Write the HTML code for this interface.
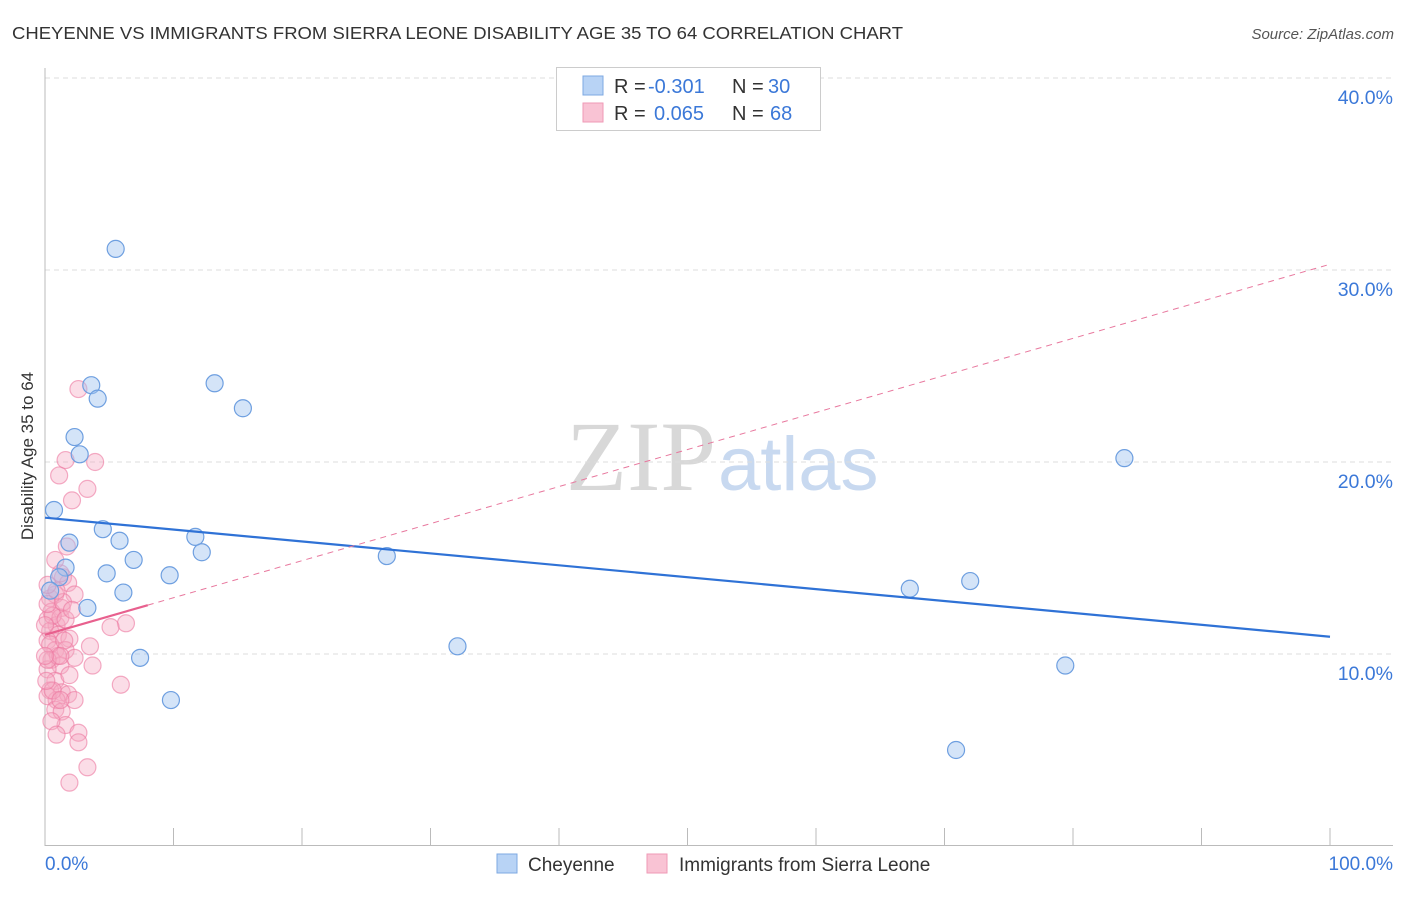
<!DOCTYPE html>
<html><head><meta charset="utf-8"><style>
body{margin:0;background:#fff;font-family:"Liberation Sans",sans-serif}
</style></head><body>
<svg width="1406" height="892" xmlns="http://www.w3.org/2000/svg">
<text x="12" y="39" font-size="17.5" fill="#333" textLength="891" lengthAdjust="spacingAndGlyphs">CHEYENNE VS IMMIGRANTS FROM SIERRA LEONE DISABILITY AGE 35 TO 64 CORRELATION CHART</text>
<text x="1394" y="39" font-size="15" fill="#555" font-style="italic" text-anchor="end">Source: ZipAtlas.com</text>
<text x="716" y="490" font-size="100" fill="#d8d8d8" text-anchor="end" font-family="Liberation Serif,serif">ZIP</text>
<text x="718" y="490" font-size="76" fill="#c8d9f0">atlas</text>
<g id="grid"></g>
<line x1="45" y1="68" x2="45" y2="846" stroke="#bbb"/>
<line x1="45" y1="845.5" x2="1393" y2="845.5" stroke="#bbb"/>
<g id="xticks"></g>
<text x="33" y="456" font-size="17" fill="#333" text-anchor="middle" transform="rotate(-90 33 456)">Disability Age 35 to 64</text>
<text x="45" y="870" font-size="19" fill="#3b78d8">0.0%</text>
<text x="1393" y="870" font-size="19" fill="#3b78d8" text-anchor="end">100.0%</text>
<g id="pink"></g><g id="blue"></g><g id="trends"></g>
<g>
<rect x="556.5" y="67.5" width="264" height="63" fill="#fff" stroke="#ccc"/>
<rect x="583" y="76" width="20" height="19" fill="#b8d3f5" stroke="#7ea8e2"/>
<rect x="583" y="103" width="20" height="19" fill="#f9c3d4" stroke="#ef9ab6"/>
<text x="614" y="93" font-size="20" fill="#333">R =</text><text x="648" y="93" font-size="20" fill="#3b78d8">-0.301</text>
<text x="732" y="93" font-size="20" fill="#333">N =</text><text x="768" y="93" font-size="20" fill="#3b78d8">30</text>
<text x="614" y="120" font-size="20" fill="#333">R =</text><text x="654" y="120" font-size="20" fill="#3b78d8">0.065</text>
<text x="732" y="120" font-size="20" fill="#333">N =</text><text x="770" y="120" font-size="20" fill="#3b78d8">68</text>
</g>
<g>
<rect x="497" y="854" width="20" height="19" fill="#b8d3f5" stroke="#7ea8e2"/>
<text x="528" y="871" font-size="19" fill="#333">Cheyenne</text>
<rect x="647" y="854" width="20" height="19" fill="#f9c3d4" stroke="#ef9ab6"/>
<text x="679" y="871" font-size="19" fill="#333">Immigrants from Sierra Leone</text>
</g>
</svg>
<script>
const yTicks=[10,20,30,40];
const xTickVals=[0,10,20,30,40,50,60,70,80,90,100];
const blueX=[5.5,3.6,4.1,13.2,15.4,2.3,2.7,0.7,4.5,5.8,1.9,11.7,12.2,6.9,26.6,1.6,1.1,4.8,9.7,6.1,3.3,32.1,7.4,9.8,67.3,72.0,84.0,79.4,70.9,0.4];
const blueY=[31.1,24.0,23.3,24.1,22.8,21.3,20.4,17.5,16.5,15.9,15.8,16.1,15.3,14.9,15.1,14.5,14.0,14.2,14.1,13.2,12.4,10.4,9.8,7.6,13.4,13.8,20.2,9.4,5.0,13.3];
const pinkX=[2.6,1.6,3.9,1.1,2.1,3.3,1.7,1.4,1.8,1.2,2.3,0.4,0.8,1.3,0.5,0.2,0.9,1.2,0.4,1.0,1.9,6.3,5.1,0.2,0.8,3.5,1.6,2.3,0.5,1.2,3.7,0.2,0.8,0.4,1.3,1.8,0.9,2.3,0.2,0.8,1.3,1.6,2.6,2.6,3.3,1.9,5.9,0.6,0.2,1.0,0.0,0.4,1.4,0.9,1.6,2.1,0.2,0.6,1.2,0.1,0.5,0.9,1.5,0.2,0.8,1.2,0.0,1.9];
const pinkY=[23.8,20.1,20.0,19.3,18.0,18.6,15.6,14.0,13.7,14.2,13.1,12.9,13.1,12.4,12.2,11.8,11.5,11.9,11.2,11.0,10.8,11.6,11.4,10.7,10.2,10.4,10.2,9.8,9.7,9.4,9.4,9.2,8.6,8.1,8.0,7.9,7.6,7.6,7.8,7.1,7.0,6.3,5.9,5.4,4.1,3.3,8.4,12.0,12.6,9.9,11.5,10.5,12.7,13.3,11.8,12.3,9.7,8.1,7.6,8.6,6.5,5.8,10.7,13.6,14.9,9.9,9.9,8.9];
const blueTrend=[17.1,10.9];
const pinkTrend=[11.0,30.3];
const pinkSolidEnd=8;
const NS="http://www.w3.org/2000/svg";
const sx=v=>45+v*12.85, sy=v=>846-v*19.2;
function mk(t,a,p){const e=document.createElementNS(NS,t);for(const k in a)e.setAttribute(k,a[k]);document.getElementById(p).appendChild(e);return e;}
yTicks.forEach(t=>{
 const l=mk('line',{x1:45,x2:1393,y1:sy(t),y2:sy(t),stroke:'#ddd','stroke-dasharray':'5,4'},'grid');
 
 
 const tx=mk('text',{x:1393,y:sy(t)+26,'font-size':19.5,fill:'#3b78d8','text-anchor':'end'},'grid');tx.textContent=t.toFixed(1)+'%';
 
 
});
xTickVals.forEach(t=>{
 const l=mk('line',{x1:sx(t),x2:sx(t),y1:828,y2:846,stroke:'#bbb'},'xticks');
 
 
});
pinkX.forEach((x,i)=>{
 const c=mk('circle',{cx:sx(x),cy:sy(pinkY[i]),r:8.5,fill:'rgba(246,170,196,0.4)',stroke:'rgba(236,120,160,0.6)','stroke-width':1.2},'pink');
 
 
});
blueX.forEach((x,i)=>{
 const c=mk('circle',{cx:sx(x),cy:sy(blueY[i]),r:8.5,fill:'rgba(160,196,240,0.45)',stroke:'#6e9fe0','stroke-width':1.2},'blue');
 
 
});
let t1=mk('line',{x1:sx(0),y1:sy(blueTrend[0]),x2:sx(100),y2:sy(blueTrend[1]),stroke:'#2f72d6','stroke-width':2.2},'trends');


const pe=pinkTrend[0]+(pinkTrend[1]-pinkTrend[0])*pinkSolidEnd/100;
let t2=mk('line',{x1:sx(pinkSolidEnd),y1:sy(pe),x2:sx(100),y2:sy(pinkTrend[1]),stroke:'#e8789e','stroke-width':1,'stroke-dasharray':'6,5'},'trends');


let t3=mk('line',{x1:sx(0),y1:sy(pinkTrend[0]),x2:sx(pinkSolidEnd),y2:sy(pe),stroke:'#e8608e','stroke-width':2.2},'trends');


</script>
</body></html>
